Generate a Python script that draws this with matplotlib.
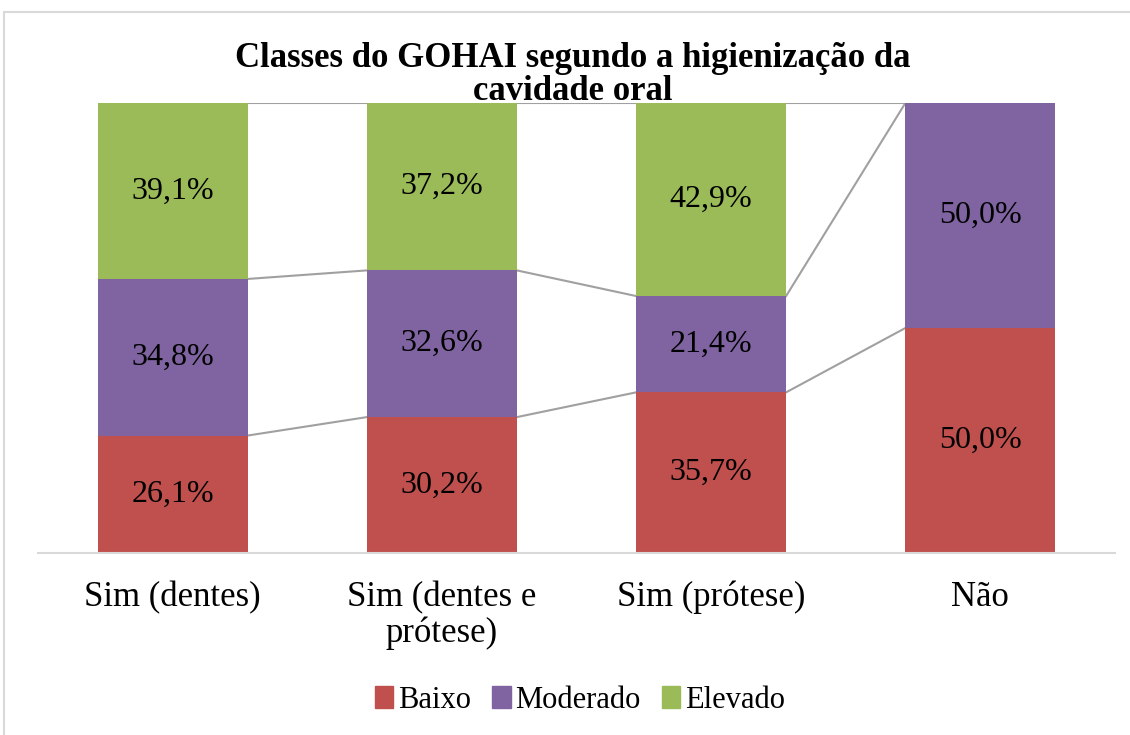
import numpy as np
import matplotlib.pyplot as plt
from matplotlib.patches import Rectangle, Patch

# GOHAI classes by oral hygiene type (percent)
categories = ['Sim (dentes)', 'Sim (dentes e\nprótese)', 'Sim (prótese)', 'Não']
baixo = [26.1, 30.2, 35.7, 50.0]
moderado = [34.8, 32.6, 21.4, 50.0]
elevado = [39.1, 37.2, 42.9, 0.0]
series_names = ['Baixo', 'Moderado', 'Elevado']
colors = ['#C0504D', '#8064A2', '#9BBB59']

plt.rcParams['font.family'] = ['Liberation Serif', 'DejaVu Serif']

W, H = 1130, 735
fig = plt.figure(figsize=(W / 100, H / 100), dpi=100)
ax = fig.add_axes([38 / W, 1 - 553 / H, (1115 - 38) / W, (553 - 103) / H])

x = np.arange(len(categories))
bw = 0.557
series = [baixo, moderado, elevado]
bottom = np.zeros(len(categories))
tops = []
for vals, name, c in zip(series, series_names, colors):
    vals = np.array(vals)
    ax.bar(x, vals, bw, bottom=bottom, color=c, label=name, zorder=2)
    for xi, b, v in zip(x, bottom, vals):
        if v > 0:
            ax.text(xi, b + v / 2, f'{v:.1f}%'.replace('.', ','), ha='center', va='center',
                    fontsize=23, color='black', zorder=3)
    bottom = bottom + vals
    tops.append(bottom.copy())

# series lines between bars
for top in tops:
    for i in range(len(categories) - 1):
        ax.plot([x[i] + bw / 2, x[i + 1] - bw / 2], [top[i], top[i + 1]],
                color='#A0A0A0', lw=1.5, zorder=1)

ax.set_xlim(-0.5, len(categories) - 0.5)
ax.set_ylim(0, 100)
ax.set_yticks([])
ax.set_xticks(x)
ax.set_xticklabels(categories, fontsize=25, linespacing=1.1)
ax.tick_params(axis='x', length=0, pad=20)
for s in ['top', 'right', 'left']:
    ax.spines[s].set_visible(False)
ax.spines['bottom'].set_color('#D9D9D9')
ax.spines['bottom'].set_linewidth(1.5)

fig.text(573 / W, 1 - 75 / H, 'Classes do GOHAI segundo a higienização da\ncavidade oral',
         ha='center', va='center', fontsize=25, fontweight='bold', linespacing=1.0)

handles = [Patch(color=c) for c in colors]
fig.legend(handles, series_names, loc='center', bbox_to_anchor=(580 / W, 1 - 700 / H),
           ncol=3, frameon=False, fontsize=22, handlelength=0.6, handleheight=0.7,
           handletextpad=0.15, columnspacing=0.7)

# chart area border
fig.patches.append(Rectangle((4 / W, -0.1), 1.2, 1 - 12 / H + 0.1, transform=fig.transFigure,
                             fill=False, edgecolor='#D9D9D9', lw=1.5))

fig.savefig('out.png', dpi=100)
